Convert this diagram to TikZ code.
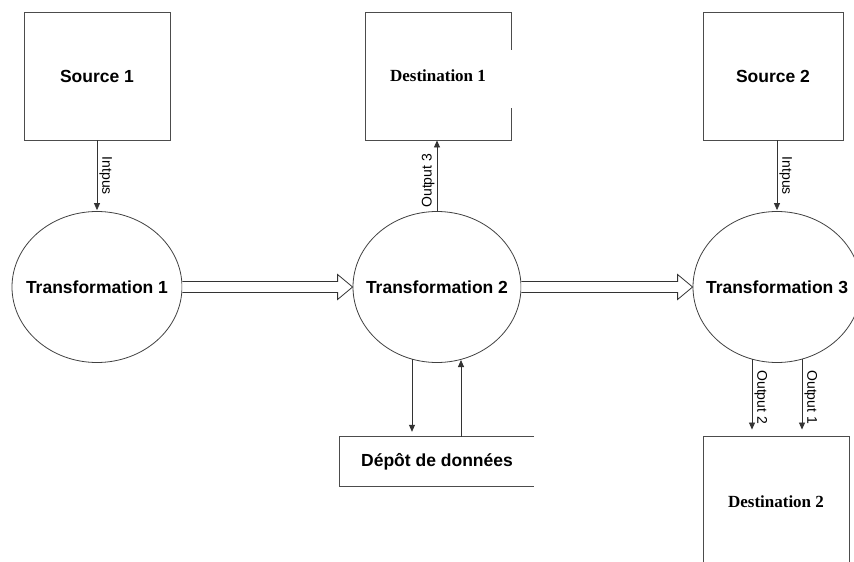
\documentclass[tikz,border=0pt]{standalone}
\usepackage{fontspec}
\setmainfont{Liberation Serif}
\newfontfamily\helv{Liberation Sans}
\usetikzlibrary{shapes.geometric,arrows.meta,calc}
\begin{document}
\begin{tikzpicture}[x=1pt,y=-1pt,
  box/.style={draw=black!70, line width=0.9pt, minimum width=146, minimum height=128, inner sep=0},
  proc/.style={ellipse, draw=black!75, line width=0.8pt, minimum width=170, minimum height=151, inner sep=0},
  sanslbl/.style={font=\helv\bfseries\fontsize{17.5}{20}\selectfont},
  serlbl/.style={font=\bfseries\fontsize{17}{20}\selectfont},
  flow/.style={draw=black!80, line width=0.8pt, -{Triangle[length=7pt,width=6pt]}},
  tag/.style={font=\helv\fontsize{14}{16}\selectfont, inner sep=2pt},
  fat/.style={draw=black!80, line width=0.8pt, fill=white}]
\useasboundingbox (0,0) rectangle (854,562);
\clip (0,0) rectangle (854,562);
\fill[white] (0,0) rectangle (854,562);

% boxes
\node[box, sanslbl] (src1) at (97,76) {Source 1};
\node[box, serlbl] (dst1) at (438,76) {Destination 1};
\fill[white] ($(dst1.north east)+(-1.5,38)$) rectangle ($(dst1.north east)+(2,96)$);
\node[box, sanslbl, minimum width=140] (src2) at (773,76) {Source 2};
\node[box, serlbl, minimum height=132] (dst2) at (776,502) {Destination 2};

% processes
\node[proc, sanslbl] (t1) at (97,287) {\makebox[0pt]{Transformation 1}};
\node[proc, sanslbl, minimum width=168] (t2) at (437,287) {\makebox[0pt]{Transformation 2}};
\node[proc, sanslbl, minimum width=168] (t3) at (777,287) {\makebox[0pt]{Transformation 3}};

% data store
\node[sanslbl, minimum width=194, minimum height=49, inner sep=0] (store) at (437,461.5) {Dépôt de données};
\draw[draw=black!70, line width=0.8pt] (store.north east) -- (store.north west) -- (store.south west) -- (store.south east);

% inputs
\draw[flow, shorten >=1pt] (src1.south) -- node[tag, rotate=-90, anchor=south] {Intpus} (t1.north);
\draw[flow, shorten >=1pt] (src2.south -| t3.north) -- node[tag, rotate=-90, anchor=south] {Intpus} (t3.north);

% output 3
\draw[flow] (t2.north) -- node[tag, rotate=90, anchor=south, pos=0.43] {Output 3} (t2.north |- dst1.south);

% store exchanges
\coordinate (sa) at ($(t2.center)+(-25,72)$);
\coordinate (sb) at ($(t2.center)+(24,73)$);
\draw[flow, shorten >=5pt] (sa) -- (sa |- store.north);
\draw[flow] (sb |- store.north) -- (sb);

% outputs of t3
\coordinate (oa) at ($(t3.center)+(-25,72)$);
\coordinate (ob) at ($(t3.center)+(25,72)$);
\draw[flow, shorten >=6pt] (oa) -- node[tag, rotate=-90, anchor=south] {Output 2} (oa |- dst2.north);
\draw[flow, shorten >=6pt] (ob) -- node[tag, rotate=-90, anchor=south] {Output 1} (ob |- dst2.north);

% fat flow arrows
\draw[fat] ($(t1.east)+(0,-5.5)$) -- ($(t2.west)+(-15,-5.5)$) -- ($(t2.west)+(-15,-12.5)$) -- (t2.west)
  -- ($(t2.west)+(-15,12.5)$) -- ($(t2.west)+(-15,5.5)$) -- ($(t1.east)+(0,5.5)$);
\draw[fat] ($(t2.east)+(0,-5.5)$) -- ($(t3.west)+(-15,-5.5)$) -- ($(t3.west)+(-15,-12.5)$) -- (t3.west)
  -- ($(t3.west)+(-15,12.5)$) -- ($(t3.west)+(-15,5.5)$) -- ($(t2.east)+(0,5.5)$);
\end{tikzpicture}
\end{document}
